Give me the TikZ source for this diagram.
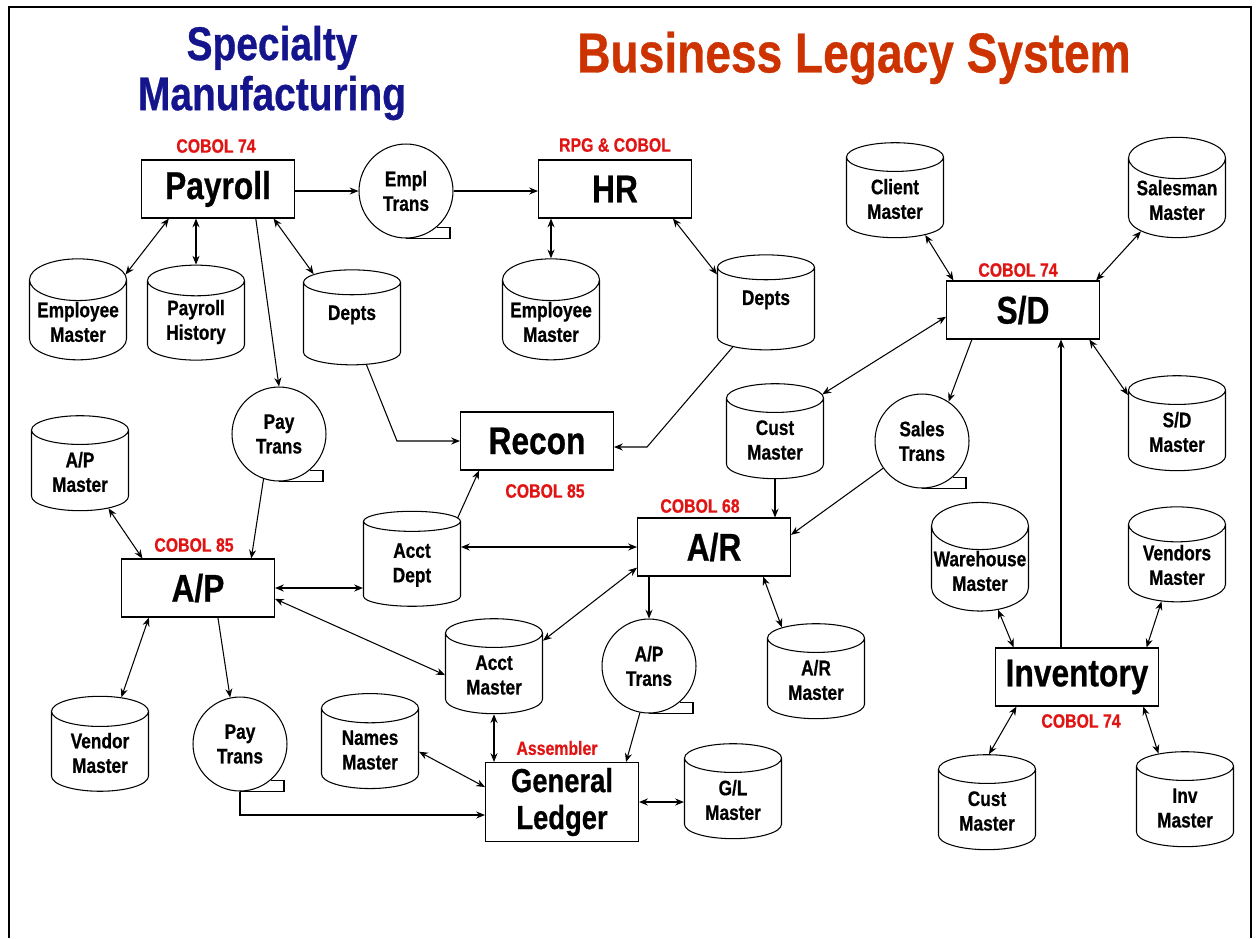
\documentclass[tikz,border=0pt]{standalone}
\usepackage{fontspec}
\usepackage{tikz}
\usetikzlibrary{shapes.geometric,arrows.meta}
\newfontfamily\impact[FakeStretch=0.82,FakeBold=0.6]{Liberation Sans}
\definecolor{cobolred}{RGB}{225,20,20}
\definecolor{navyblue}{RGB}{20,20,140}
\definecolor{rust}{RGB}{204,51,0}
\tikzstyle{process}=[draw,rectangle,fill=white,align=center,minimum width=3.06cm,minimum height=1.16cm,inner sep=1pt,font=\impact\bfseries\fontsize{22}{26}\selectfont]
\tikzstyle{store}=[draw,cylinder,shape border rotate=90,shape aspect=0.5,align=center,minimum width=1.94cm,minimum height=1.9cm,inner sep=0.5pt,font=\impact\bfseries\fontsize{12}{14}\selectfont]
\tikzstyle{trans}=[draw,circle,align=center,minimum size=1.88cm,inner sep=0pt,font=\impact\bfseries\fontsize{12}{14}\selectfont]
\tikzstyle{lang}=[text=cobolred,inner sep=0pt,font=\impact\bfseries\fontsize{11}{13}\selectfont]

\begin{document}
\begin{tikzpicture}[x=0.02cm,y=-0.02cm,line width=0.6pt,>={Stealth[length=5pt,width=4pt]}]
\useasboundingbox (0,0) rectangle (1257,938);
\draw[line width=1.5pt] (9,938) -- (9,7) -- (1251,7) -- (1251,938);
% titles
\node[text=navyblue,align=center,font=\impact\bfseries\fontsize{27}{28.5}\selectfont] (company) at (272,73) {Specialty\\Manufacturing};
\node[text=rust,font=\impact\bfseries\fontsize{32}{36}\selectfont] (legacy) at (854,58) {Business Legacy System};
% programs
  \foreach \place/\name/\txt in {{(218,189)/payroll/Payroll},
                                 {(615,189)/hr/HR},
                                 {(1023,310)/sd/{S/D}},
                                 {(537,441)/recon/Recon},
                                 {(198,588)/ap/{A/P}},
                                 {(714,547)/ar/{A/R}}}
    \node[process] (\name) at \place {\txt};
\node[process,minimum width=3.26cm] (inv) at (1077,677) {Inventory};
\node[process,minimum height=1.58cm,font=\impact\bfseries\fontsize{19}{21}\selectfont] (gl) at (562,802) {General\\Ledger};
  \foreach \place/\name/\txt in {{(216,146)/payrolllang/COBOL 74},
                                 {(615,145)/hrlang/RPG \& COBOL},
                                 {(1018,270)/sdlang/COBOL 74},
                                 {(545,491)/reconlang/COBOL 85},
                                 {(194,545)/aplang/COBOL 85},
                                 {(700,506)/arlang/COBOL 68},
                                 {(1081,721)/invlang/COBOL 74},
                                 {(557,748)/gllang/Assembler}}
    \node[lang] (\name) at \place {\txt};
% files
  \foreach \place/\name/\txt in {{(78,322)/empmast/Employee\\Master},
                                 {(196,322)/payhist/Payroll\\History},
                                 {(352,325)/deptsa/Depts\\\mbox{}},
                                 {(551,322)/empmastb/Employee\\Master},
                                 {(766,310)/deptsb/Depts\\\mbox{}},
                                 {(895,199)/clientmast/Client\\Master},
                                 {(1177,200)/salesmast/Salesman\\Master},
                                 {(775,440)/custmasta/Cust\\Master},
                                 {(1177,432)/sdmast/{S/D\\Master}},
                                 {(80,472)/apmast/{A/P\\Master}},
                                 {(412,565)/acctdept/Acct\\Dept},
                                 {(494,675)/acctmast/Acct\\Master},
                                 {(100,753)/vendmast/Vendor\\Master},
                                 {(370,750)/namesmast/Names\\Master},
                                 {(733,800)/glmast/{G/L\\Master}},
                                 {(816,680)/armast/{A/R\\Master}},
                                 {(980,571)/whmast/Warehouse\\Master},
                                 {(1177,565)/vendsmast/Vendors\\Master},
                                 {(987,811)/custmastb/Cust\\Master},
                                 {(1185,808)/invmast/Inv\\Master}}
    \node[store] (\name) at \place {\txt};
% transaction tapes
  \foreach \place/\name/\txt in {{(406,191)/empltrans/Empl\\Trans},
                                 {(279,434)/paytransa/Pay\\Trans},
                                 {(240,744)/paytransb/Pay\\Trans},
                                 {(922,441)/salestrans/Sales\\Trans},
                                 {(649,666)/aptrans/{A/P\\Trans}}}
    \node[trans] (\name) at \place {\txt};
  \foreach \name in {empltrans,paytransa,paytransb,salestrans,aptrans}
    \draw (\name.south) -- ++(44,0) |- (\name.-50);
% read/write
  \foreach \source/\dest in {payroll.211/empmast.45,
                             payroll.south -| payhist.north/payhist.north,
                             payroll.-28/deptsa.127,
                             hr.south -| empmastb.north/empmastb.north,
                             hr.-27/deptsb.144,
                             ar.west -| acctdept.east/ar.west,
                             apmast.-52/ap.152,
                             ap.-8/acctmast.west,
                             acctmast.35/ar.195,
                             ap.211/vendmast.69,
                             namesmast.-2/gl.169,
                             ar.-31/armast.123,
                             sd.185/custmasta.44,
                             sd.-24/sdmast.143,
                             clientmast.-50/sd.157,
                             salesmast.221/sd.22,
                             whmast.-65/inv.155,
                             vendsmast.247/inv.23,
                             inv.206/custmastb.88,
                             inv.-24/invmast.116}
      \draw[<->] (\source) -- (\dest);
  \foreach \source/\dest in {ap.east/ap.east -| acctdept.west,
                             acctmast.south/acctmast.south |- gl.north,
                             gl.east/gl.east -| glmast.west}
      \draw[<->,line width=1.2pt] (\source) -- (\dest);
% one way
  \foreach \source/\dest in {payroll.-38/paytransa.north,
                             payroll.east |- empltrans/empltrans.west,
                             empltrans.east/empltrans.east -| hr.west,
                             acctdept.46/recon.207,
                             paytransa.-109/ap.29,
                             ap.-56/paytransb.102,
                             ar.south -| aptrans.north/aptrans.north,
                             aptrans.-101/gl.32,
                             custmasta.south/custmasta.south |- ar.north,
                             salestrans.215/ar.9,
                             sd.210/salestrans.56}
      \draw[->] (\source) -- (\dest);
\draw[->] (deptsa.-70) -- ([xshift=-1.26cm]recon.west) -- (recon.west);
\draw[->] (deptsb.228) -- ([xshift=0.66cm,yshift=-0.12cm]recon.east) -- ([yshift=-0.12cm]recon.east);
\draw[->] (paytransb.south) |- ([yshift=-0.26cm]gl.west);
\draw[->] ([xshift=-0.32cm]inv.north) -- ([xshift=-0.32cm]inv.north |- sd.south);
\end{tikzpicture}
\end{document}
